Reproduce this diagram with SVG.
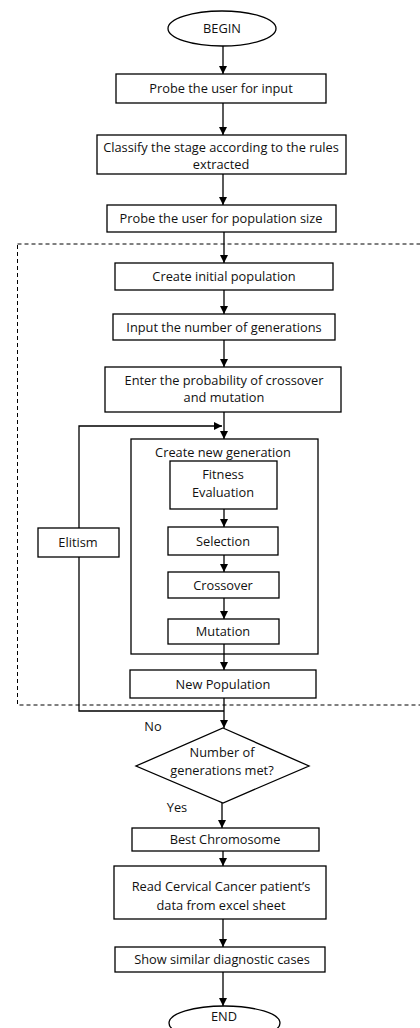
<svg xmlns="http://www.w3.org/2000/svg" width="420" height="1028" viewBox="0 0 420 1028">
<defs>
<marker id="arr" viewBox="0 0 10 10" refX="10" refY="5" markerWidth="8" markerHeight="8" markerUnits="userSpaceOnUse" orient="auto">
<path d="M0,0 L10,5 L0,10 z" fill="#000"/>
</marker>
<style>
.b{fill:#fff;stroke:#000;stroke-width:1.3}
.t{font-family:"Open Sans","Liberation Sans",sans-serif;font-size:12.8px;fill:#111;text-anchor:middle}
.c{fill:none;stroke:#000;stroke-width:1.3}
</style>
</defs>
<rect x="17.5" y="244" width="420" height="461" fill="none" stroke="#000" stroke-width="1" stroke-dasharray="4,3"/>
<g id="newgen"><rect class="b" x="131" y="439" width="187" height="215"/><text class="t" x="223" y="457">Create new generation</text></g>
<g id="connectors">
<line class="c" x1="223" y1="46" x2="223" y2="74" marker-end="url(#arr)"/>
<line class="c" x1="223" y1="103" x2="223" y2="135" marker-end="url(#arr)"/>
<line class="c" x1="223" y1="174" x2="223" y2="205" marker-end="url(#arr)"/>
<line class="c" x1="224" y1="232" x2="224" y2="263" marker-end="url(#arr)"/>
<line class="c" x1="224" y1="290" x2="224" y2="314" marker-end="url(#arr)"/>
<line class="c" x1="224" y1="340" x2="224" y2="367" marker-end="url(#arr)"/>
<line class="c" x1="224" y1="412" x2="224" y2="439" marker-end="url(#arr)"/>
<polyline class="c" points="79,528 79,426 222,426" marker-end="url(#arr)"/>
<line class="c" x1="224" y1="509" x2="224" y2="527" marker-end="url(#arr)"/>
<line class="c" x1="224" y1="555" x2="224" y2="572" marker-end="url(#arr)"/>
<line class="c" x1="224" y1="598" x2="224" y2="619" marker-end="url(#arr)"/>
<line class="c" x1="224" y1="644" x2="224" y2="670" marker-end="url(#arr)"/>
<polyline class="c" points="79,557 79,711 224,711"/>
<line class="c" x1="224" y1="698" x2="224" y2="728" marker-end="url(#arr)"/>
<line class="c" x1="222" y1="803" x2="222" y2="828" marker-end="url(#arr)"/>
<line class="c" x1="223" y1="851" x2="223" y2="866" marker-end="url(#arr)"/>
<line class="c" x1="223" y1="919" x2="223" y2="947" marker-end="url(#arr)"/>
<line class="c" x1="223" y1="972" x2="223" y2="1006" marker-end="url(#arr)"/>
<text class="t" x="153" y="731">No</text>
<text class="t" x="177" y="812">Yes</text>
</g>
<g id="begin"><ellipse class="b" cx="222" cy="28.5" rx="54" ry="17.5"/><text class="t" x="222" y="33">BEGIN</text></g>
<g id="n1"><rect class="b" x="116" y="74" width="210" height="29"/><text class="t" x="221" y="93">Probe the user for input</text></g>
<g id="n2"><rect class="b" x="97" y="135" width="249" height="39"/><text class="t" x="221" y="152">Classify the stage according to the rules</text><text class="t" x="221" y="169">extracted</text></g>
<g id="n3"><rect class="b" x="107" y="205" width="229" height="27"/><text class="t" x="221" y="223">Probe the user for population size</text></g>
<g id="n4"><rect class="b" x="115" y="263" width="218" height="27"/><text class="t" x="224" y="281">Create initial population</text></g>
<g id="n5"><rect class="b" x="113" y="314" width="222" height="26"/><text class="t" x="224" y="332">Input the number of generations</text></g>
<g id="n6"><rect class="b" x="105" y="367" width="236" height="45"/><text class="t" x="224" y="385">Enter the probability of crossover</text><text class="t" x="224" y="402">and mutation</text></g>
<g id="fitness"><rect class="b" x="170" y="461" width="107" height="48"/><text class="t" x="223" y="479">Fitness</text><text class="t" x="223" y="497">Evaluation</text></g>
<g id="selection"><rect class="b" x="168" y="527" width="110" height="28"/><text class="t" x="223" y="545.5">Selection</text></g>
<g id="crossover"><rect class="b" x="168" y="572" width="111" height="26"/><text class="t" x="223" y="590">Crossover</text></g>
<g id="mutation"><rect class="b" x="168" y="619" width="111" height="25"/><text class="t" x="223" y="636">Mutation</text></g>
<g id="elitism"><rect class="b" x="38" y="528" width="81" height="29"/><text class="t" x="78" y="546.5">Elitism</text></g>
<g id="newpop"><rect class="b" x="130" y="670" width="186" height="28"/><text class="t" x="223" y="688.5">New Population</text></g>
<g id="decision"><polygon class="b" points="223,728 309,766 223,803 136,766"/><text class="t" x="222" y="757">Number of</text><text class="t" x="222" y="775">generations met?</text></g>
<g id="best"><rect class="b" x="132" y="828" width="187" height="23"/><text class="t" x="225" y="844">Best Chromosome</text></g>
<g id="read"><rect class="b" x="114" y="866" width="212" height="53"/><text class="t" x="221" y="891">Read Cervical Cancer patient’s</text><text class="t" x="221" y="910">data from excel sheet</text></g>
<g id="show"><rect class="b" x="115" y="947" width="210" height="25"/><text class="t" x="222" y="964">Show similar diagnostic cases</text></g>
<g id="end"><ellipse class="b" cx="224.5" cy="1023" rx="55.5" ry="17"/><text class="t" x="224" y="1021">END</text></g>
</svg>
